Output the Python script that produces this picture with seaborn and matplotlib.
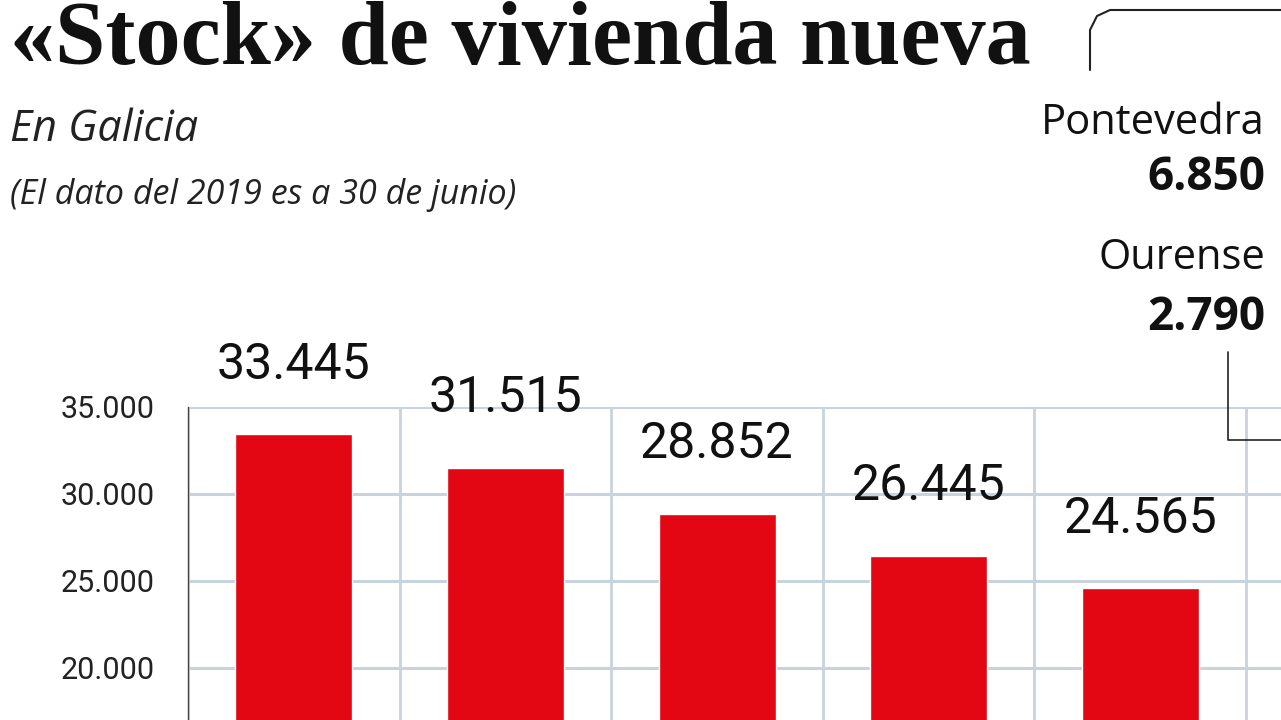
import matplotlib.pyplot as plt
import seaborn as sns
import pandas as pd

years = ["2014", "2015", "2016", "2017", "2018"]
stock = [33445, 31515, 28852, 26445, 24565]
labels = ["33.445", "31.515", "28.852", "26.445", "24.565"]
yticks = [20000, 25000, 30000, 35000]
ytick_labels = ["20.000", "25.000", "30.000", "35.000"]
provinces = ["Pontevedra", "Ourense"]
province_values = ["6.850", "2.790"]

df = pd.DataFrame({"year": years, "stock": stock})

sns.set_style("white")
plt.rcParams["font.family"] = ["Roboto", "DejaVu Sans"]

fig = plt.figure(figsize=(12.81, 7.2), dpi=100)
ax = fig.add_axes([188 / 1281, 0, 1 - 188 / 1281, (720 - 407) / 720])

sns.barplot(data=df, x="year", y="stock", color="#e30613", width=0.553,
            saturation=1, ax=ax, zorder=3)
ax.set_xlim(-0.5, 4.665)
ax.set_ylim(16977, 35000)

# gridlines between bars
ax.set_xticks([i - 0.5 for i in range(6)], minor=True)
ax.set_xticks([])
ax.set_yticks(yticks)
ax.set_yticklabels(ytick_labels, fontsize=22, color="#222222")
ax.tick_params(axis="y", length=0, pad=24)
ax.grid(True, which="minor", axis="x", color="#c8d3dd", lw=2, zorder=0)
ax.grid(True, which="major", axis="y", color="#c8d3dd", lw=2.2, zorder=0)
ax.tick_params(axis="x", which="minor", length=0)
for s in ["top", "right", "bottom"]:
    ax.spines[s].set_visible(False)
ax.spines["left"].set_color("#444444")
ax.spines["left"].set_linewidth(1)
ax.set_xlabel("")
ax.set_ylabel("")

for i, (v, lab) in enumerate(zip(stock, labels)):
    ax.annotate(lab, (i, v), xytext=(0, 50), textcoords="offset points",
                ha="center", va="center", fontsize=36, color="#111111",
                annotation_clip=False)

fig.text(10 / 1281, 1 - 42 / 720, "«Stock» de vivienda nueva",
         family="Liberation Serif", weight="bold", fontsize=65,
         va="center", ha="left", color="#111111")
fig.text(10 / 1281, 1 - 130 / 720, "En Galicia", family="Open Sans",
         style="italic", fontsize=31, va="center", color="#222222")
fig.text(10 / 1281, 1 - 195 / 720, "(El dato del 2019 es a 30 de junio)",
         family="Open Sans", style="italic", fontsize=24.5,
         va="center", color="#222222")

name_y = [123, 258]
val_y = [178, 318]
for name, val, ny, vy in zip(provinces, province_values, name_y, val_y):
    fig.text(1265 / 1281, 1 - ny / 720, name, family="Open Sans",
             fontsize=30, ha="right", va="center", color="#111111")
    fig.text(1265 / 1281, 1 - vy / 720, val, family="Open Sans",
             weight="bold", fontsize=33, ha="right", va="center",
             color="#111111")

# bracket and leader lines
fig.add_artist(plt.Line2D([1090 / 1281, 1090 / 1281, 1097 / 1281, 1110 / 1281, 1],
                          [1 - 70 / 720, 1 - 30 / 720, 1 - 16 / 720, 1 - 10 / 720, 1 - 10 / 720],
                          color="#222222", lw=1.5))
fig.add_artist(plt.Line2D([1228 / 1281, 1228 / 1281, 1],
                          [1 - 352 / 720, 1 - 440 / 720, 1 - 440 / 720],
                          color="#222222", lw=1.2))

fig.savefig("out.png", dpi=100)
